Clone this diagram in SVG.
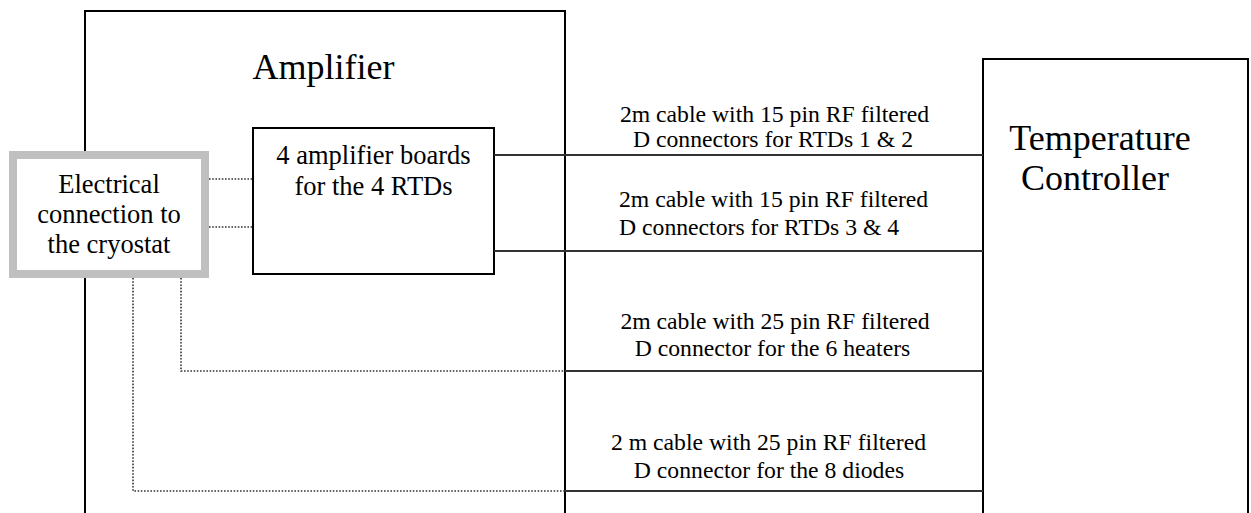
<svg xmlns="http://www.w3.org/2000/svg" width="1251" height="513" viewBox="0 0 1251 513" font-family="'Liberation Serif', 'Times New Roman', Times, serif">
<style>
.box{fill:#fff;stroke:#000;stroke-width:2}
.cryo{fill:#fff;stroke:#c0c0c0;stroke-width:8}
.solid{fill:none;stroke:#333;stroke-width:2}
.dot{fill:none;stroke:#333;stroke-width:1.6;stroke-dasharray:1.6 1.6}
.t{font-family:'Liberation Serif','Times New Roman',Times,serif;fill:#000}
.big{font-size:36px}
.mid{font-size:26.5px}
.sm{font-size:23.7px}
</style>
<rect width="1251" height="513" fill="#fff"/>
<g id="amplifier">
<rect class="box" x="85" y="11" width="480" height="520"/>
<text class="t big" x="323.5" y="78.5" text-anchor="middle">Amplifier</text>
</g>
<g id="temperature-controller">
<rect class="box" x="983" y="59" width="265" height="470"/>
<text class="t big" x="1100" y="150" text-anchor="middle">Temperature</text>
<text class="t big" x="1095" y="190" text-anchor="middle">Controller</text>
</g>
<g id="amplifier-boards">
<rect class="box" x="253" y="128" width="241" height="146"/>
<text class="t mid" x="373.5" y="163.5" text-anchor="middle">4 amplifier boards</text>
<text class="t mid" x="373.5" y="195" text-anchor="middle">for the 4 RTDs</text>
</g>
<g id="cryostat">
<rect class="cryo" x="13" y="155" width="192" height="119"/>
<text class="t mid" x="109" y="192.5" text-anchor="middle">Electrical</text>
<text class="t mid" x="109" y="222.5" text-anchor="middle">connection to</text>
<text class="t mid" x="109" y="253" text-anchor="middle">the cryostat</text>
</g>
<g id="connectors">
<path class="dot" d="M209 179H253M209 227H253M181 278V371H565M133 278V491H565"/>
<path class="solid" d="M494 155H983M494 251H983M565 371H983M565 491H983"/>
</g>
<g id="labels">
<text class="t sm" x="774.5" y="121.5" text-anchor="middle">2m cable with 15 pin RF filtered</text>
<text class="t sm" x="773" y="147" text-anchor="middle">D connectors for RTDs 1 &amp; 2</text>
<text class="t sm" x="619" y="206.5">2m cable with 15 pin RF filtered</text>
<text class="t sm" x="619" y="235">D connectors for RTDs 3 &amp; 4</text>
<text class="t sm" x="775" y="328.5" text-anchor="middle">2m cable with 25 pin RF filtered</text>
<text class="t sm" x="772.5" y="355.5" text-anchor="middle">D connector for the 6 heaters</text>
<text class="t sm" x="768.5" y="449.5" text-anchor="middle">2 m cable with 25 pin RF filtered</text>
<text class="t sm" x="769" y="477.5" text-anchor="middle">D connector for the 8 diodes</text>
</g>
</svg>
